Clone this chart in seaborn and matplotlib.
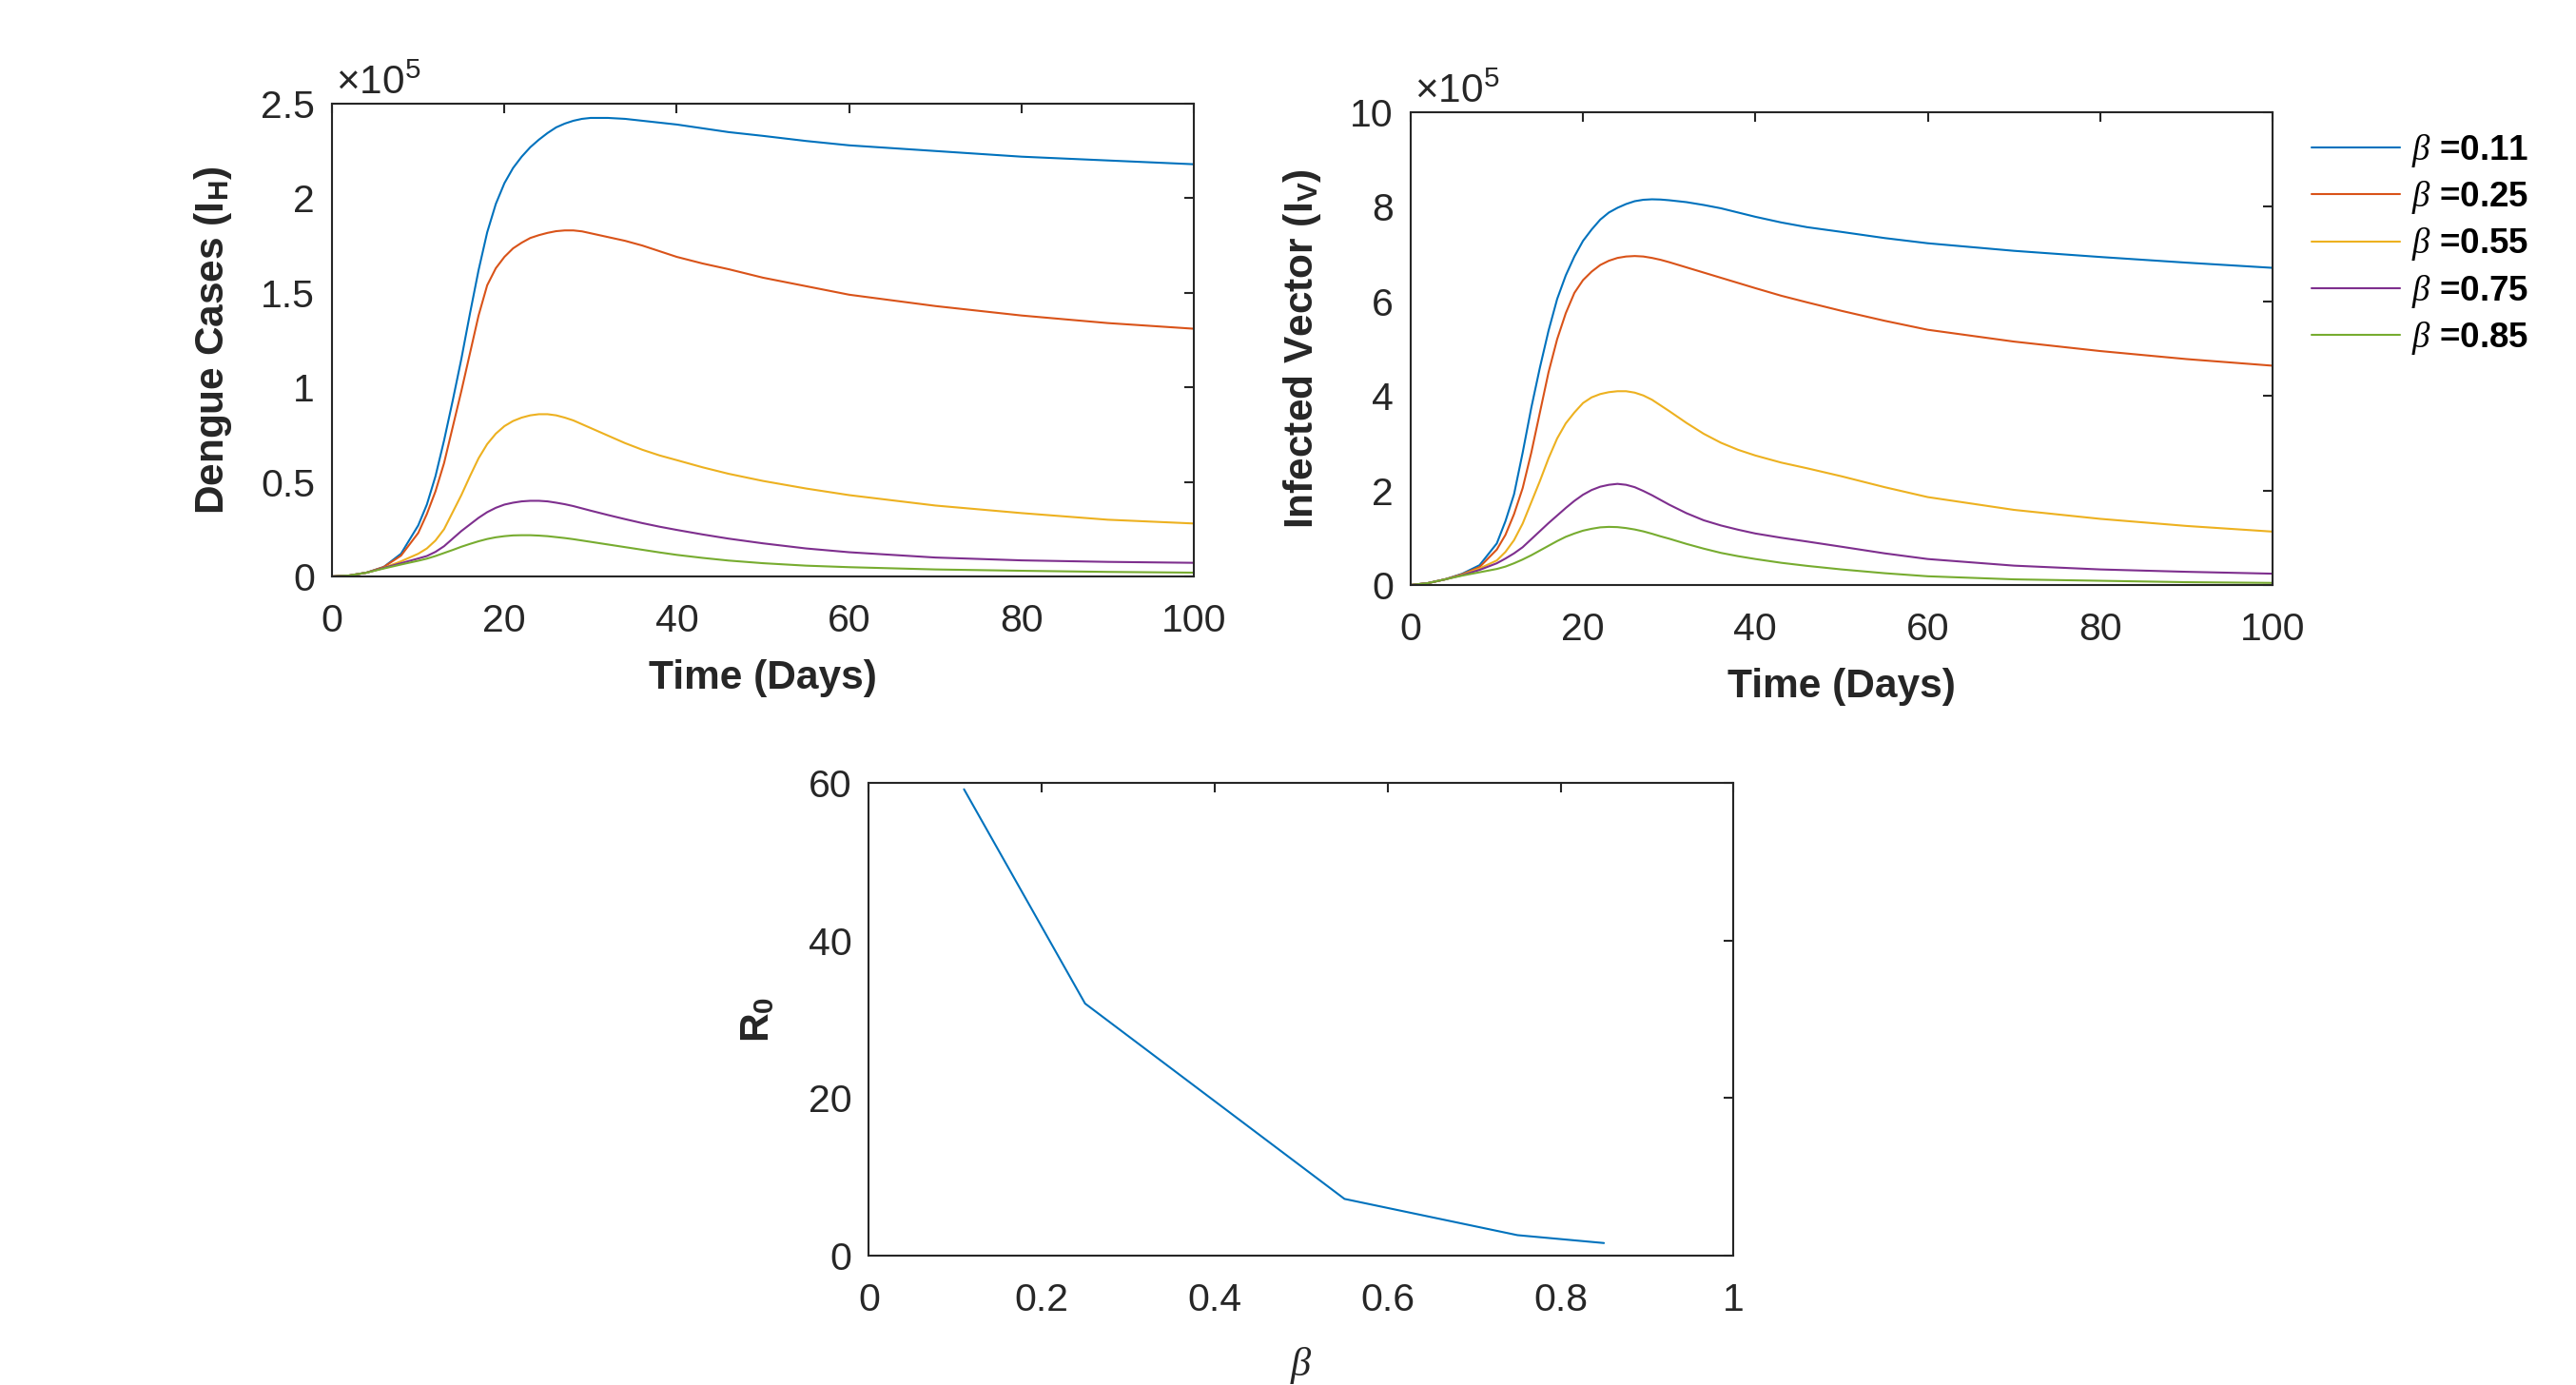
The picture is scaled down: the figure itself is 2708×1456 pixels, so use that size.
import numpy as np
import pandas as pd
import matplotlib
matplotlib.use("Agg")
import matplotlib.pyplot as plt
import seaborn as sns

# beta values and matching MATLAB default colours
betas = [0.11, 0.25, 0.55, 0.75, 0.85]
colors = ["#0072BD", "#D95319", "#EDB120", "#7E2F8E", "#77AC30"]

t_days = [0, 2, 4, 6, 8, 10,
          11, 12, 13, 14, 15, 16, 17, 18, 19, 20,
          21, 22, 23, 24, 25, 26, 27, 28, 29, 30,
          32, 34, 36, 38, 40,
          43, 46, 50, 55, 60,
          70, 80, 90, 100]

# dengue cases I_H, in units of 1e5
ih_011 = [0, 0.005, 0.02, 0.05, 0.12, 0.27,
          0.38, 0.53, 0.72, 0.93, 1.15, 1.39, 1.62, 1.82, 1.97, 2.08,
          2.16, 2.22, 2.27, 2.31, 2.345, 2.375, 2.395, 2.41, 2.42, 2.425,
          2.425, 2.42, 2.41, 2.40, 2.39,
          2.37, 2.35, 2.33, 2.303, 2.28,
          2.25, 2.22, 2.20, 2.18]
ih_025 = [0, 0.005, 0.02, 0.05, 0.11, 0.23,
          0.33, 0.45, 0.60, 0.79, 0.98, 1.18, 1.38, 1.54, 1.63, 1.69,
          1.735, 1.765, 1.79, 1.805, 1.817, 1.826, 1.83, 1.83, 1.825, 1.815,
          1.795, 1.775, 1.75, 1.72, 1.69,
          1.655, 1.625, 1.58, 1.535, 1.49,
          1.43, 1.38, 1.34, 1.31]
ih_055 = [0, 0.005, 0.02, 0.045, 0.08, 0.12,
          0.148, 0.19, 0.25, 0.34, 0.43, 0.53, 0.625, 0.70, 0.755, 0.795,
          0.822, 0.84, 0.852, 0.858, 0.858, 0.852, 0.84, 0.825, 0.805, 0.785,
          0.745, 0.705, 0.67, 0.64, 0.615,
          0.577, 0.543, 0.505, 0.465, 0.43,
          0.375, 0.335, 0.30, 0.28]
ih_075 = [0, 0.005, 0.02, 0.045, 0.07, 0.095,
          0.108, 0.13, 0.16, 0.20, 0.24, 0.275, 0.31, 0.34, 0.363, 0.38,
          0.39, 0.397, 0.40, 0.40, 0.397, 0.39, 0.382, 0.372, 0.36, 0.348,
          0.325, 0.303, 0.282, 0.263, 0.246,
          0.222, 0.20, 0.175, 0.148, 0.128,
          0.10, 0.085, 0.077, 0.072]
ih_085 = [0, 0.005, 0.02, 0.042, 0.063, 0.083,
          0.094, 0.108, 0.124, 0.14, 0.157, 0.172, 0.186, 0.198, 0.207, 0.213,
          0.217, 0.218, 0.218, 0.216, 0.213, 0.208, 0.203, 0.197, 0.19, 0.183,
          0.169, 0.155, 0.141, 0.127, 0.114,
          0.098, 0.084, 0.07, 0.057, 0.049,
          0.037, 0.03, 0.024, 0.02]

# infected vectors I_V, in units of 1e5
iv_011 = [0, 0.04, 0.12, 0.24, 0.42, 0.88,
          1.35, 1.92, 2.80, 3.75, 4.60, 5.38, 6.05, 6.55, 6.95, 7.28,
          7.52, 7.73, 7.88, 7.98, 8.06, 8.12, 8.15, 8.16, 8.155, 8.14,
          8.10, 8.04, 7.97, 7.88, 7.79,
          7.67, 7.57, 7.47, 7.34, 7.23,
          7.07, 6.94, 6.82, 6.71]
iv_025 = [0, 0.04, 0.12, 0.23, 0.38, 0.75,
          1.06, 1.50, 2.05, 2.80, 3.65, 4.50, 5.20, 5.75, 6.18, 6.45,
          6.63, 6.77, 6.86, 6.92, 6.95, 6.96, 6.95, 6.92, 6.88, 6.83,
          6.72, 6.61, 6.50, 6.39, 6.28,
          6.12, 5.98, 5.80, 5.59, 5.40,
          5.15, 4.95, 4.78, 4.64]
iv_055 = [0, 0.04, 0.12, 0.22, 0.35, 0.52,
          0.70, 0.95, 1.30, 1.75, 2.20, 2.68, 3.10, 3.42, 3.65, 3.85,
          3.97, 4.04, 4.08, 4.10, 4.10, 4.07, 4.01, 3.92, 3.80, 3.68,
          3.43, 3.20, 3.01, 2.86, 2.74,
          2.59, 2.47, 2.30, 2.07, 1.86,
          1.59, 1.40, 1.25, 1.13]
iv_075 = [0, 0.04, 0.12, 0.21, 0.32, 0.46,
          0.56, 0.67, 0.80, 0.97, 1.14, 1.31, 1.47, 1.63, 1.78, 1.91,
          2.01, 2.08, 2.12, 2.14, 2.12, 2.07, 1.99, 1.90, 1.80, 1.70,
          1.52, 1.37, 1.26, 1.17, 1.09,
          1.00, 0.92, 0.81, 0.67, 0.55,
          0.41, 0.33, 0.28, 0.24]
iv_085 = [0, 0.04, 0.12, 0.20, 0.27, 0.34,
          0.39, 0.46, 0.54, 0.63, 0.73, 0.83, 0.93, 1.02, 1.09, 1.15,
          1.19, 1.22, 1.23, 1.225, 1.205, 1.175, 1.135, 1.085, 1.03, 0.98,
          0.87, 0.77, 0.68, 0.61, 0.55,
          0.47, 0.405, 0.33, 0.25, 0.185,
          0.12, 0.09, 0.06, 0.045]

# basic reproduction number against beta
r0_beta = [0.11, 0.25, 0.55, 0.75, 0.85]
r0_vals = [59.2, 32.0, 7.2, 2.6, 1.6]

labels = [r"$\beta$ =" + f"{b:g}" for b in betas]
palette = dict(zip(labels, colors))

ih_series = [ih_011, ih_025, ih_055, ih_075, ih_085]
iv_series = [iv_011, iv_025, iv_055, iv_075, iv_085]
rows = []
for lab, ih, iv in zip(labels, ih_series, iv_series):
    for t, a, b in zip(t_days, ih, iv):
        rows.append({"t": t, "IH": a, "IV": b, "beta": lab})
df = pd.DataFrame(rows)
df_r0 = pd.DataFrame({"beta": r0_beta, "R0": r0_vals})

sns.set_style("white")
plt.rcParams["font.family"] = ["Liberation Sans", "DejaVu Sans"]
plt.rcParams["mathtext.fontset"] = "custom"
plt.rcParams["mathtext.rm"] = "Liberation Sans"
plt.rcParams["mathtext.bf"] = "Liberation Sans:bold"
plt.rcParams["mathtext.it"] = "Liberation Serif:italic"

TXT = "#262626"
TICK_FS = 29.5
LAB_FS = 30.5

fig = plt.figure(figsize=(27.08, 14.56), dpi=100)
ax1 = fig.add_axes([0.1289, 0.5838, 0.3346, 0.3413])
ax2 = fig.add_axes([0.5476, 0.5776, 0.3346, 0.3413])
ax3 = fig.add_axes([0.3373, 0.0934, 0.3357, 0.3413])


def matlab_box(ax):
    for s in ax.spines.values():
        s.set_color(TXT)
        s.set_linewidth(1.5)
        s.set_visible(True)
    ax.tick_params(axis="both", direction="in", length=7.5, width=1.5,
                   colors=TXT, labelsize=TICK_FS, top=True, right=True)
    ax.tick_params(axis="x", pad=20)
    ax.tick_params(axis="y", pad=13)
    ax.grid(False)


sns.lineplot(data=df, x="t", y="IH", hue="beta", hue_order=labels,
             palette=palette, estimator=None, linewidth=1.5, ax=ax1, legend=False)
sns.lineplot(data=df, x="t", y="IV", hue="beta", hue_order=labels,
             palette=palette, estimator=None, linewidth=1.5, ax=ax2, legend=False)
sns.lineplot(data=df_r0, x="beta", y="R0", color=colors[0], linewidth=1.5,
             estimator=None, ax=ax3)

ax1.set_xlim(0, 100)
ax1.set_ylim(0, 2.5)
ax1.set_xticks([0, 20, 40, 60, 80, 100])
ax1.set_yticks([0, 0.5, 1, 1.5, 2, 2.5])
ax1.set_yticklabels(["0", "0.5", "1", "1.5", "2", "2.5"])
ax1.set_xlabel("Time (Days)", fontsize=LAB_FS, fontweight="bold", color=TXT, labelpad=15)
ax1.set_ylabel(r"Dengue Cases (I$_{\mathbf{H}}$)", fontsize=LAB_FS,
               fontweight="bold", color=TXT, labelpad=20)

ax2.set_xlim(0, 100)
ax2.set_ylim(0, 10)
ax2.set_xticks([0, 20, 40, 60, 80, 100])
ax2.set_yticks([0, 2, 4, 6, 8, 10])
ax2.set_xlabel("Time (Days)", fontsize=LAB_FS, fontweight="bold", color=TXT, labelpad=15)
ax2.set_ylabel(r"Infected Vector (I$_{\mathbf{V}}$)", fontsize=LAB_FS,
               fontweight="bold", color=TXT, labelpad=20)

ax3.set_xlim(0, 1)
ax3.set_ylim(0, 60)
ax3.set_xticks([0, 0.2, 0.4, 0.6, 0.8, 1])
ax3.set_xticklabels(["0", "0.2", "0.4", "0.6", "0.8", "1"])
ax3.set_yticks([0, 20, 40, 60])
ax3.set_xlabel(r"$\beta$", fontsize=LAB_FS, color=TXT, labelpad=20)
ax3.set_ylabel(r"R$_{\mathbf{0}}$", fontsize=LAB_FS, fontweight="bold",
               color=TXT, labelpad=23)

for ax in (ax1, ax2, ax3):
    matlab_box(ax)

# exponent labels like MATLAB
for ax in (ax1, ax2):
    ax.annotate(r"$\times\mathregular{10^{5}}$", xy=(0, 1), xycoords="axes fraction",
                xytext=(3, 7), textcoords="offset points", ha="left", va="baseline",
                fontsize=TICK_FS + 1, color=TXT)

handles = ax2.get_lines()[:len(labels)]
leg = ax2.legend(handles, labels, loc="center left",
                 bbox_to_anchor=(0.8973, 0.8235), bbox_transform=fig.transFigure,
                 frameon=False, borderaxespad=0, borderpad=0, handlelength=2.53,
                 handletextpad=0.33, labelspacing=0.28,
                 prop={"size": 26.5, "weight": "bold"})
for txt in leg.get_texts():
    txt.set_color("black")

fig.savefig("out.png", dpi=100, facecolor="white")
